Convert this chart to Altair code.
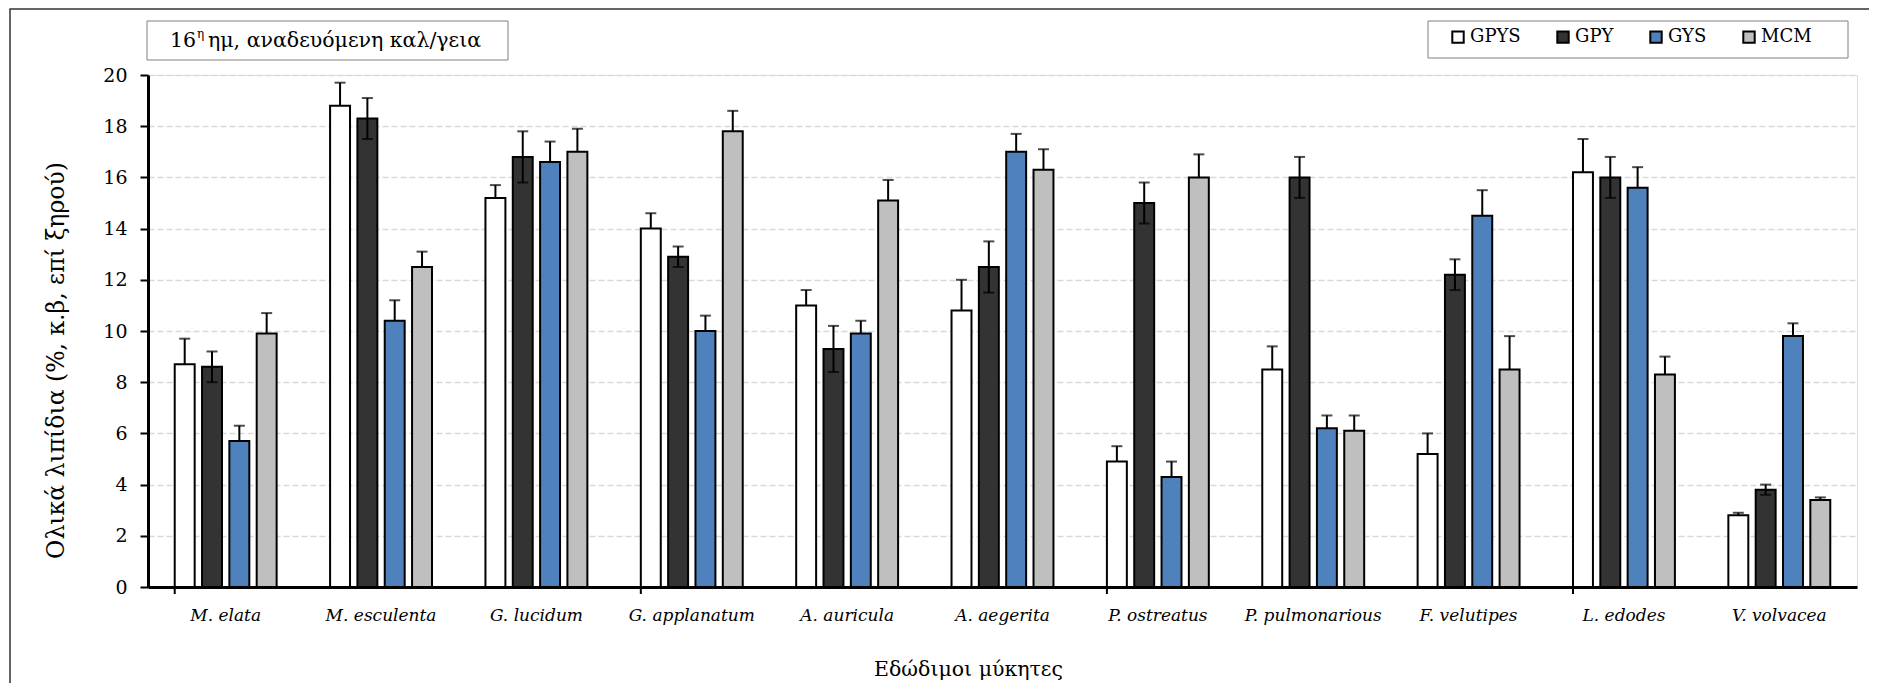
import altair as alt
import pandas as pd

cats = ["M. elata", "M. esculenta", "G. lucidum", "G. applanatum", "A. auricula",
        "A. aegerita", "P. ostreatus", "P. pulmonarious", "F. velutipes", "L. edodes", "V. volvacea"]
series = ["GPYS", "GPY", "GYS", "MCM"]
colors = ["#ffffff", "#333333", "#4f81bd", "#bfbfbf"]

gpys = [8.7, 18.8, 15.2, 14.0, 11.0, 10.8, 4.9, 8.5, 5.2, 16.2, 2.8]
gpys_err = [1.0, 0.9, 0.5, 0.6, 0.6, 1.2, 0.6, 0.9, 0.8, 1.3, 0.1]
gpy = [8.6, 18.3, 16.8, 12.9, 9.3, 12.5, 15.0, 16.0, 12.2, 16.0, 3.8]
gpy_err = [0.6, 0.8, 1.0, 0.4, 0.9, 1.0, 0.8, 0.8, 0.6, 0.8, 0.2]
gys = [5.7, 10.4, 16.6, 10.0, 9.9, 17.0, 4.3, 6.2, 14.5, 15.6, 9.8]
gys_err = [0.6, 0.8, 0.8, 0.6, 0.5, 0.7, 0.6, 0.5, 1.0, 0.8, 0.5]
mcm = [9.9, 12.5, 17.0, 17.8, 15.1, 16.3, 16.0, 6.1, 8.5, 8.3, 3.4]
mcm_err = [0.8, 0.6, 0.9, 0.8, 0.8, 0.8, 0.9, 0.6, 1.3, 0.7, 0.1]

y_ticks = [0, 2, 4, 6, 8, 10, 12, 14, 16, 18, 20]
tick_cats = [cats[0], cats[3], cats[6], cats[9]]

title_main = "16"
title_sup = "η"
title_rest = "ημ, αναδευόμενη καλ/γεια"
y_title = "Ολικά λιπίδια (%, κ.β, επί ξηρού)"
x_title = "Εδώδιμοι μύκητες"

vals = {"GPYS": (gpys, gpys_err), "GPY": (gpy, gpy_err), "GYS": (gys, gys_err), "MCM": (mcm, mcm_err)}
rows = []
for s in series:
    v, e = vals[s]
    for c, vv, ee in zip(cats, v, e):
        both = (s == "GPY")
        rows.append({"cat": c, "series": s, "value": vv, "err": ee,
                     "hi": vv + ee, "lo": (vv - ee) if both else vv, "both": both})
df = pd.DataFrame(rows)
ticks_df = pd.DataFrame({"cat": tick_cats})
one = pd.DataFrame({"k": [0]})

FONT = "DejaVu Serif"
W, H = 1709, 512

x_enc = alt.X("cat:N", sort=cats,
              scale=alt.Scale(paddingInner=0.344, paddingOuter=0.172),
              axis=alt.Axis(title=x_title, labelAngle=0, ticks=False, tickSize=0,
                            labelFont=FONT, labelFontSize=17, labelFontStyle="italic",
                            labelColor="black", labelPadding=20,
                            domainColor="black", domainWidth=3,
                            titleFont=FONT, titleFontSize=20.5, titleFontWeight="normal",
                            titleColor="black", titleX=820, titleY=82,
                            titleAlign="center", titleBaseline="middle"))
xo_enc = alt.XOffset("series:N", sort=series, scale=alt.Scale(paddingInner=0.27))

base = alt.Chart(df)

bars = base.mark_bar(stroke="black", strokeWidth=2).encode(
    x=x_enc,
    xOffset=xo_enc,
    y=alt.Y("value:Q", scale=alt.Scale(domain=[0, 20]),
            axis=alt.Axis(title=y_title, values=y_ticks, tickSize=8, tickWidth=2, tickColor="black",
                          labelFont=FONT, labelFontSize=19, labelColor="black", labelPadding=13,
                          domainColor="black", domainWidth=3,
                          grid=True, gridColor="#d9d9d9", gridDash=[6, 3], gridWidth=1.5,
                          titleFont=FONT, titleFontSize=23.5, titleFontWeight="normal",
                          titleColor="black", titleX=-92, titleY=285, titleAngle=-90,
                          titleAlign="center", titleBaseline="middle")),
    color=alt.Color("series:N", sort=series, scale=alt.Scale(domain=series, range=colors),
                    legend=alt.Legend(title=None, orient="none", direction="horizontal",
                                      legendX=1301, legendY=-47, symbolType="square",
                                      symbolSize=130, symbolStrokeColor="black",
                                      symbolStrokeWidth=2, labelFont=FONT, labelFontSize=18,
                                      labelColor="black", labelOffset=3, columnPadding=32,
                                      padding=0)),
)

err_rule = base.mark_rule(color="black", strokeWidth=2).encode(
    x=alt.X("cat:N", sort=cats), xOffset=xo_enc, y="lo:Q", y2="hi:Q")
cap_hi = base.mark_tick(color="black", thickness=2, size=11).encode(
    x=alt.X("cat:N", sort=cats), xOffset=xo_enc, y="hi:Q")
cap_lo = base.transform_filter("datum.both").mark_tick(color="black", thickness=2, size=11).encode(
    x=alt.X("cat:N", sort=cats), xOffset=xo_enc, y="lo:Q")

cat_ticks = alt.Chart(ticks_df).mark_rule(color="black", strokeWidth=2).encode(
    x=alt.X("cat:N", sort=cats, bandPosition=0),
    y=alt.value(H), y2=alt.value(H + 7))

frame = alt.Chart(one).mark_rect(fill=None, stroke="#333333", strokeWidth=1.5).encode(
    x=alt.value(-138), x2=alt.value(W + 60), y=alt.value(-66), y2=alt.value(H + 200))

title_box = alt.Chart(one).mark_rect(fill="white", stroke="#808080", strokeWidth=1).encode(
    x=alt.value(-1), x2=alt.value(360), y=alt.value(-54), y2=alt.value(-15))
t1 = alt.Chart(one).mark_text(font=FONT, fontSize=20.5, align="left", baseline="middle", color="black").encode(
    x=alt.value(22), y=alt.value(-34), text=alt.value(title_main))
t2 = alt.Chart(one).mark_text(font=FONT, fontSize=12, align="left", baseline="middle", color="black").encode(
    x=alt.value(49), y=alt.value(-41), text=alt.value(title_sup))
t3 = alt.Chart(one).mark_text(font=FONT, fontSize=20.5, align="left", baseline="middle", color="black").encode(
    x=alt.value(60), y=alt.value(-34), text=alt.value(title_rest))

legend_box = alt.Chart(one).mark_rect(fill="white", stroke="#808080", strokeWidth=1).encode(
    x=alt.value(1280), x2=alt.value(1700), y=alt.value(-54), y2=alt.value(-17))

chart = alt.layer(frame, title_box, legend_box, t1, t2, t3, bars, err_rule, cap_hi, cap_lo, cat_ticks).properties(
    width=W, height=H, autosize="none",
    padding={"left": 140, "top": 67, "right": 12, "bottom": 96},
).configure_view(stroke="#888888", strokeWidth=1).configure(background="white")

chart.save("out.html", embed_options={"renderer": "svg", "actions": False})
